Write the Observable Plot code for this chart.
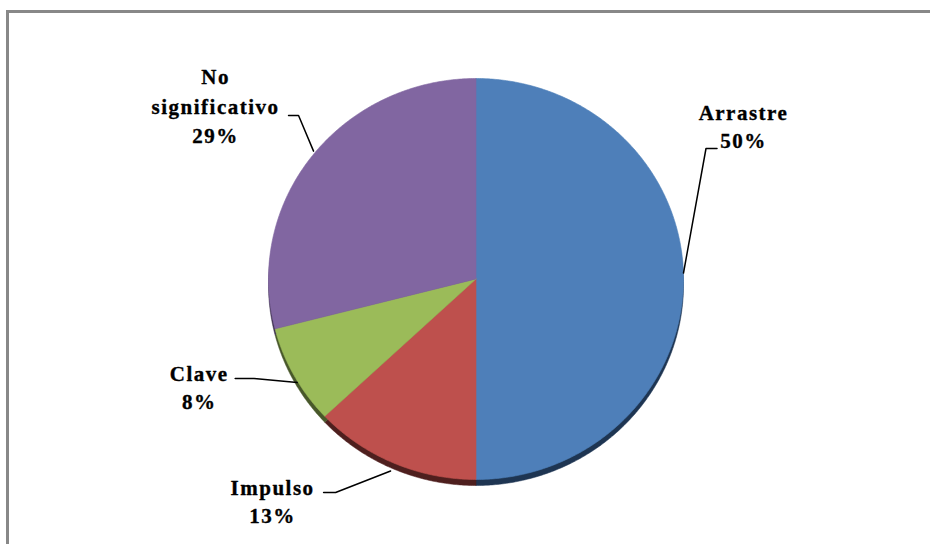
<!DOCTYPE html>
<html><head><meta charset="utf-8">
<script src="https://cdn.jsdelivr.net/npm/d3@7"></script>
<script src="https://cdn.jsdelivr.net/npm/@observablehq/plot@0.6"></script>
<style>
html,body{margin:0;padding:0;background:#fff;}
#wrap{position:relative;width:930px;height:544px;overflow:hidden;background:#fff;}
#frame{position:absolute;left:6px;top:10px;right:-10px;bottom:-10px;border-left:3px solid #888;border-top:3px solid #888;}
#chart{position:absolute;left:0;top:0;}
#chart svg text{letter-spacing:1.5px;}
</style></head><body>
<div id="wrap"><div id="frame"></div><div id="chart"></div></div>
<script>
// ---- data ----
const categories = ["Arrastre", "Impulso", "Clave", "No significativo"];
const values = [50, 13, 8, 29];
const labelNames = ["Arrastre", "Impulso", "Clave", "No\nsignificativo"];
const colors = ["#4e7fb9", "#be504d", "#9bbb59", "#8166a1"];
const shadeColors = ["#1e3552", "#4e1f1e", "#48582a", "#3c2f4e"];

// ---- layout ----
const W = 930, H = 544;
const cx = 475.5, cy = 278.5, rx = 207.5, ry = 200.5, depth = 6;
// label placement (pixel offsets from the slice's mid-angle edge point)
const layout = {
  "Arrastre":         {text: [60, -179],    start: [0, -6],   elbow: [22.5, -130.5], end: [33.5, -130.5], lh: 1.33},
  "Impulso":          {text: [-121, 13],    start: [-3, 8],   elbow: [-58, 29.5],    end: [-70, 29.5],    lh: 1.3},
  "Clave":            {text: [-95, -14.5],  start: [3, 7],    elbow: [-40, 3],       end: [-59, 3],       lh: 1.33},
  "No significativo": {text: [-96.5, -92.5], start: [1.5, -5], elbow: [-13.5, -40.6], end: [-23.5, -40.6], lh: 1.4}
};

const total = d3.sum(values);
let acc = 0;
const slices = categories.map((c, i) => {
  const a0 = acc / total * 2 * Math.PI;
  acc += values[i];
  const a1 = acc / total * 2 * Math.PI;
  return {c, i, a0, a1, mid: (a0 + a1) / 2, pct: Math.round(values[i] / total * 100) + "%"};
});

// unit-circle coordinates (y up); scales map them to the ellipse
function polygon(s) {
  const pts = [{c: s.c, x: 0, y: 0}];
  const n = Math.max(2, Math.ceil((s.a1 - s.a0) / (Math.PI / 360)));
  for (let k = 0; k <= n; k++) {
    const a = s.a0 + (s.a1 - s.a0) * k / n;
    pts.push({c: s.c, x: Math.sin(a), y: Math.cos(a)});
  }
  pts.push({c: s.c, x: 0, y: 0});
  return pts;
}
const toUnit = (s, off) => ({x: Math.sin(s.mid) + off[0] / rx, y: Math.cos(s.mid) - off[1] / ry});

const leaders = slices.flatMap(s => {
  const L = layout[s.c];
  return [L.start, L.elbow, L.end].map(o => ({c: s.c, ...toUnit(s, o)}));
});

const marks = [];
slices.forEach(s => marks.push(Plot.line(polygon(s), {x: "x", y: "y", dy: depth, fill: shadeColors[s.i], stroke: shadeColors[s.i], strokeWidth: 0.5, curve: "linear"})));
slices.forEach(s => marks.push(Plot.line(polygon(s), {x: "x", y: "y", fill: colors[s.i], stroke: colors[s.i], strokeWidth: 0.6, curve: "linear"})));
marks.push(Plot.line(leaders, {x: "x", y: "y", z: "c", stroke: "#000", strokeWidth: 1.5, curve: "linear"}));
slices.forEach(s => {
  const L = layout[s.c];
  const p = toUnit(s, L.text);
  marks.push(Plot.text([{...p, t: labelNames[s.i] + "\n" + s.pct}], {
    x: "x", y: "y", text: "t", lineAnchor: "top", textAnchor: "middle", lineHeight: L.lh,
    fontFamily: "Liberation Serif", fontWeight: "bold", fontSize: 21,
    fill: "#000", stroke: "#000", strokeWidth: 0.35
  }));
});

const chart = Plot.plot({
  width: W, height: H,
  marginTop: 0, marginRight: 0, marginBottom: 0, marginLeft: 0,
  x: {type: "linear", domain: [-1, 1], range: [cx - rx, cx + rx], axis: null},
  y: {type: "linear", domain: [-1, 1], range: [cy + ry, cy - ry], axis: null},
  style: {background: "transparent", overflow: "visible"},
  marks
});
document.getElementById("chart").appendChild(chart);
</script>
</body></html>
